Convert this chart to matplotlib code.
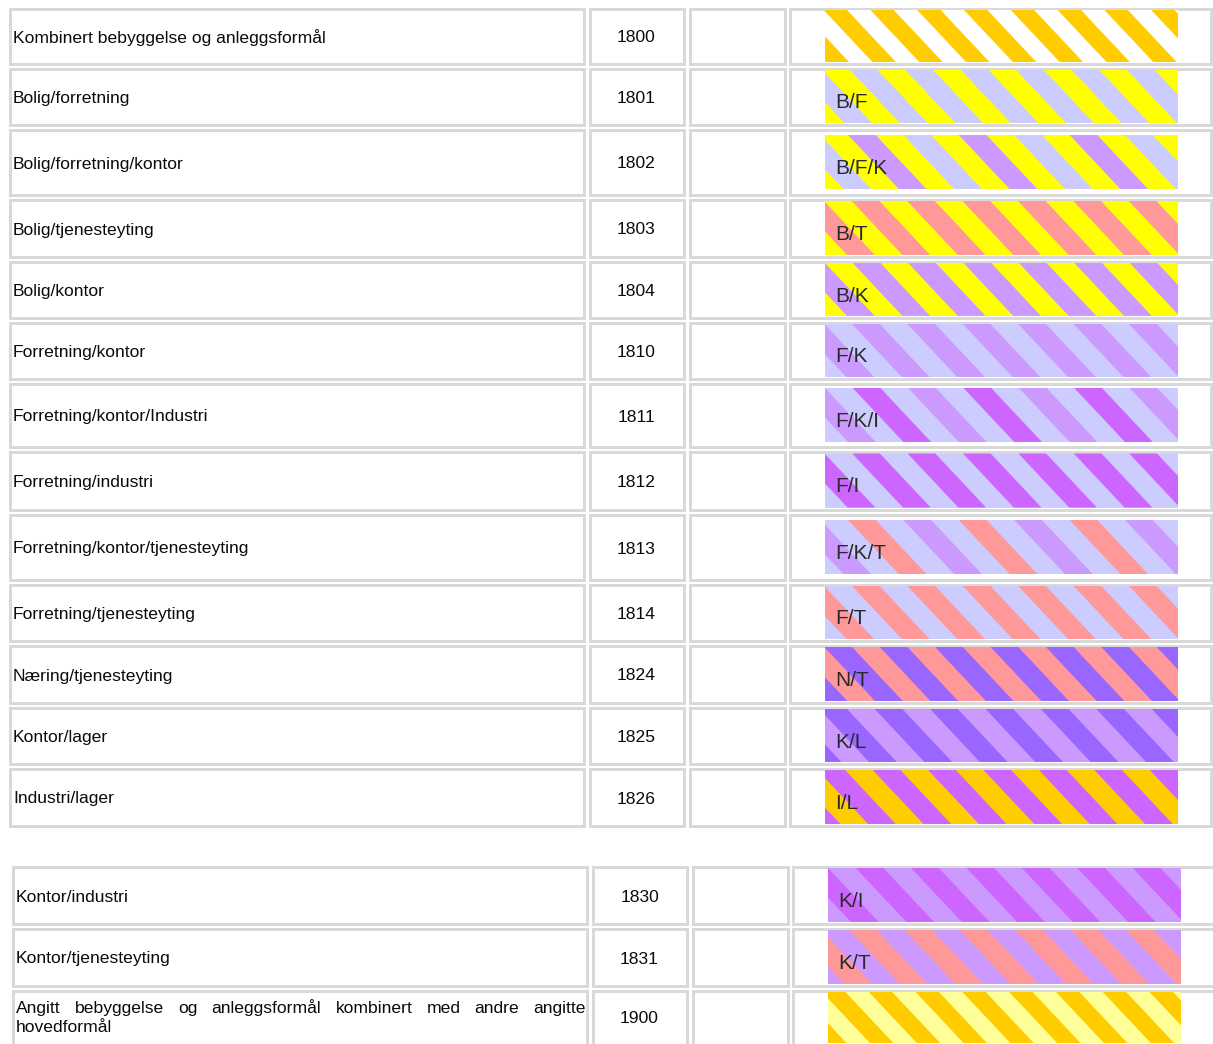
import matplotlib
matplotlib.use("Agg")
import matplotlib.pyplot as plt
from matplotlib.patches import Rectangle, Polygon

# ---------------- data ----------------
ORANGE, YELLOW, LAVENDER = "#ffcc00", "#ffff00", "#ccccff"
LILAC, MAGENTA, SALMON = "#cc99ff", "#cc66ff", "#ff9999"
VIOLET, LIGHTYELLOW, WHITE = "#9966ff", "#ffff99", "#ffffff"

names_1 = ["Kombinert bebyggelse og anleggsformål", "Bolig/forretning",
           "Bolig/forretning/kontor", "Bolig/tjenesteyting", "Bolig/kontor",
           "Forretning/kontor", "Forretning/kontor/Industri", "Forretning/industri",
           "Forretning/kontor/tjenesteyting", "Forretning/tjenesteyting",
           "Næring/tjenesteyting", "Kontor/lager", "Industri/lager"]
codes_1 = ["1800", "1801", "1802", "1803", "1804", "1810", "1811", "1812",
           "1813", "1814", "1824", "1825", "1826"]
abbr_1 = ["", "B/F", "B/F/K", "B/T", "B/K", "F/K", "F/K/I", "F/I", "F/K/T",
          "F/T", "N/T", "K/L", "I/L"]
stripes_1 = [[ORANGE, WHITE], [YELLOW, LAVENDER], [YELLOW, LILAC, YELLOW, LAVENDER],
             [YELLOW, SALMON], [YELLOW, LILAC], [LAVENDER, LILAC],
             [LAVENDER, MAGENTA, LAVENDER, LILAC], [LAVENDER, MAGENTA],
             [LAVENDER, SALMON, LAVENDER, LILAC], [LAVENDER, SALMON],
             [VIOLET, SALMON], [VIOLET, LILAC], [MAGENTA, ORANGE]]

names_2 = ["Kontor/industri", "Kontor/tjenesteyting",
           "Angitt bebyggelse og anleggsformål kombinert med andre angitte hovedformål"]
codes_2 = ["1830", "1831", "1900"]
abbr_2 = ["K/I", "K/T", ""]
stripes_2 = [[LILAC, MAGENTA], [LILAC, SALMON], [ORANGE, LIGHTYELLOW]]

# ---------------- layout / style ----------------
W_PX, H_PX = 1213, 1044
FONT = ["Liberation Sans", "DejaVu Sans"]
BORDER = "#d9d9d9"
BW = 3.0  # border width in px

row_h_1 = [58, 59, 68, 60, 59, 59, 66, 61, 68, 59, 60, 59, 60]
phase_1 = [-1.4, -2.7, -4.7, -1.0, 0.0, -0.7, 0.0, -0.5, -4.7, -0.7, -0.7, -5.7, -7.7]
band_1 = [23.4] + [27.7] * 12
row_h_2 = [60, 60, 57]
phase_2 = [0.0, -6.7, -6.0]
band_2 = [27.7, 27.7, 23.4]

fig = plt.figure(figsize=(W_PX / 100, H_PX / 100), dpi=100)
ax = fig.add_axes([0, 0, 1, 1])
ax.set_xlim(0, W_PX)
ax.set_ylim(H_PX, 0)
ax.axis("off")
renderer = fig.canvas.get_renderer()

SLOPE = 0.94
px2pt = 72 / 100


def clip_poly(pts, xmin, xmax, ymin, ymax):
    def clip_edge(points, inside, inter):
        out = []
        n = len(points)
        for i in range(n):
            cur, prev = points[i], points[i - 1]
            if inside(cur):
                if not inside(prev):
                    out.append(inter(prev, cur))
                out.append(cur)
            elif inside(prev):
                out.append(inter(prev, cur))
        return out

    def ix(xc):
        def f(p, q):
            t = (xc - p[0]) / (q[0] - p[0])
            return (xc, p[1] + t * (q[1] - p[1]))
        return f

    def iy(yc):
        def f(p, q):
            t = (yc - p[1]) / (q[1] - p[1])
            return (p[0] + t * (q[0] - p[0]), yc)
        return f

    pts = clip_edge(pts, lambda p: p[0] >= xmin, ix(xmin))
    if pts:
        pts = clip_edge(pts, lambda p: p[0] <= xmax, ix(xmax))
    if pts:
        pts = clip_edge(pts, lambda p: p[1] >= ymin, iy(ymin))
    if pts:
        pts = clip_edge(pts, lambda p: p[1] <= ymax, iy(ymax))
    return pts


def cell(x0, y0, x1, y1):
    ax.add_patch(Rectangle((x0 + BW / 2, y0 + BW / 2), x1 - x0 - BW, y1 - y0 - BW,
                           facecolor="white", edgecolor=BORDER, lw=BW * px2pt))


def swatch(x0, y0, w, h, colors, band, phase):
    counts = {c: colors.count(c) for c in colors}
    bg = max(counts, key=counts.get)
    ax.add_patch(Rectangle((x0, y0), w, h, facecolor=bg, edgecolor="none", lw=0))
    n = len(colors)
    kmin = int(-(SLOPE * h + band) // band) - 2
    kmax = int((w + band) // band) + 2
    for k in range(kmin, kmax + 1):
        col = colors[k % n]
        if col == bg:
            continue
        ua = phase + k * band
        ub = ua + band
        pts = [(x0 + ua, y0), (x0 + ub, y0), (x0 + ub + SLOPE * h, y0 + h),
               (x0 + ua + SLOPE * h, y0 + h)]
        pts = clip_poly(pts, x0, x0 + w, y0, y0 + h)
        if len(pts) >= 3:
            ax.add_patch(Polygon(pts, closed=True, facecolor=col,
                                 edgecolor="none", lw=0))


def text_width(s, size):
    t = ax.text(0, 0, s, fontsize=size, family=FONT)
    wdt = t.get_window_extent(renderer=renderer).width
    t.remove()
    return wdt


def justified(x0, x1, ybase, text, size, lead):
    words = text.split()
    lines, cur = [], []
    for wd in words:
        trial = cur + [wd]
        if cur and text_width(" ".join(trial), size) > (x1 - x0):
            lines.append(cur)
            cur = [wd]
        else:
            cur = trial
    lines.append(cur)
    for li, ln in enumerate(lines):
        y = ybase + li * lead
        if li == len(lines) - 1 or len(ln) == 1:
            ax.text(x0, y, " ".join(ln), fontsize=size, family=FONT, color="#0a0a0a",
                    va="baseline", ha="left")
            continue
        widths = [text_width(wd, size) for wd in ln]
        gap = (x1 - x0 - sum(widths)) / (len(ln) - 1)
        x = x0
        for wd, ww in zip(ln, widths):
            ax.text(x, y, wd, fontsize=size, family=FONT, color="#0a0a0a",
                    va="baseline", ha="left")
            x += ww + gap
    return len(lines)


def table(top, xoff, names, codes, abbrs, stripes, heights, phases, bands, right):
    cols = [(8 + xoff, 585 + xoff), (588 + xoff, 685 + xoff),
            (688 + xoff, 786 + xoff), (788 + xoff, right)]
    sw_x0, sw_x1 = 825 + xoff, 1178 + xoff
    y = top
    for name, code, ab, st, h, ph, bd in zip(names, codes, abbrs, stripes,
                                             heights, phases, bands):
        y0, y1 = y, y + h
        for (cx0, cx1) in cols:
            cell(cx0, y0, cx1, y1)
        yc = (y0 + y1) / 2
        # name
        if text_width(name, 12.6) > (cols[0][1] - cols[0][0] - 10):
            justified(cols[0][0] + 5, cols[0][1] - 2, yc - 4.5, name, 12.6, 18.5)
            code_base = yc + 5.5
        else:
            ax.text(cols[0][0] + 5, yc + 6.5, name, fontsize=12.6, family=FONT,
                    color="#0a0a0a", va="baseline", ha="left")
            code_base = yc + 6.5
        # code
        ax.text((cols[1][0] + cols[1][1]) / 2, code_base, code, fontsize=12.6,
                family=FONT, color="#0a0a0a", va="baseline", ha="center")
        # swatch
        sh = min(54, h - 6)
        sy0 = yc - sh / 2
        swatch(sw_x0, sy0, sw_x1 - sw_x0, sh, st, bd, ph)
        if ab:
            ax.text(sw_x0 + 10, yc + 12, ab, fontsize=15, family=FONT,
                    color="#2a2a2a", va="baseline", ha="left")
        y = y1 + 2


table(7, 0, names_1, codes_1, abbr_1, stripes_1, row_h_1, phase_1, band_1, 1212)
table(865, 3, names_2, codes_2, abbr_2, stripes_2, row_h_2, phase_2, band_2, 1216)

fig.savefig("out.png", dpi=100)
